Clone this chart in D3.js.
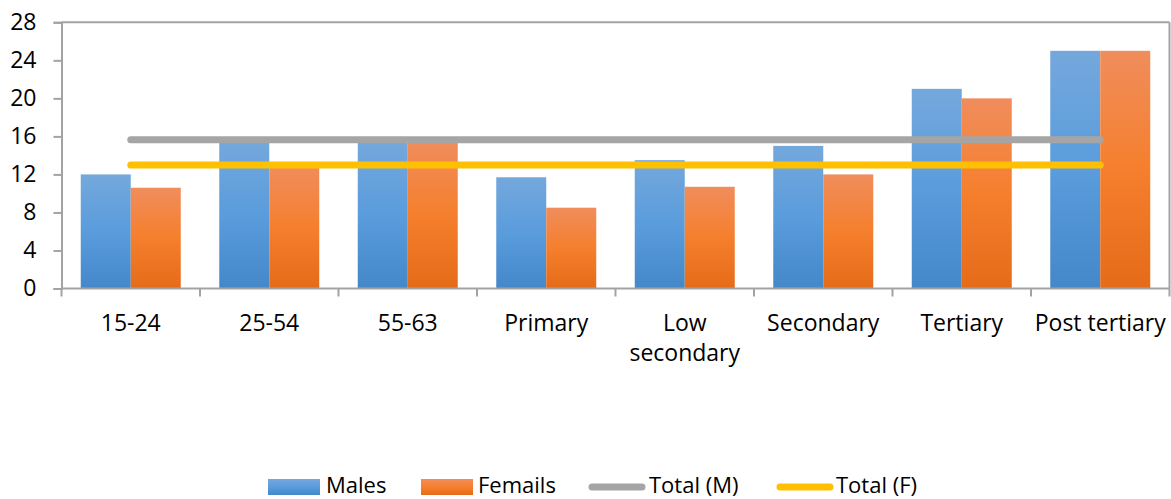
<!DOCTYPE html>
<html><head><meta charset="utf-8">
<script src="https://cdn.jsdelivr.net/npm/d3@7/dist/d3.min.js"></script>
<style>
html,body{margin:0;padding:0;background:#fff;}
svg text{font-family:"Open Sans",sans-serif;fill:#000;}
</style></head>
<body>
<svg id="chart" width="1171" height="499"></svg>
<script>
const categories = ["15-24","25-54","55-63","Primary","Low secondary","Secondary","Tertiary","Post tertiary"];
const categoryLines = [["15-24"],["25-54"],["55-63"],["Primary"],["Low","secondary"],["Secondary"],["Tertiary"],["Post tertiary"]];
const males   = [12.0, 15.5, 15.5, 11.7, 13.5, 15.0, 21.0, 25.0];
const femails = [10.6, 12.8, 15.5, 8.5, 10.7, 12.0, 20.0, 25.0];
const totalM  = [15.65, 15.65, 15.65, 15.65, 15.65, 15.65, 15.65, 15.65];
const totalF  = [13.0, 13.0, 13.0, 13.0, 13.0, 13.0, 13.0, 13.0];
const yTicks  = [0, 4, 8, 12, 16, 20, 24, 28];
const barSeries = ["Males","Femails"];

const svg = d3.select("#chart");
const L = 61.5, R = 1169.5, T = 22.3, B = 288.5;

const x = d3.scaleBand().domain(categories).range([L, R]).padding(0);
const xSub = d3.scaleBand().domain(barSeries).range([0, x.bandwidth()]).paddingInner(0).paddingOuter(0.385);
const y = d3.scaleLinear().domain([0, 28]).range([B, T]);

const defs = svg.append("defs");
function grad(id, stops){
  const g = defs.append("linearGradient").attr("id", id).attr("x1",0).attr("y1",0).attr("x2",0).attr("y2",1);
  stops.forEach(s => g.append("stop").attr("offset", s[0]).attr("stop-color", s[1]));
}
grad("gBlue", [[0,"#74a8dc"],[0.5,"#5a9cdc"],[1,"#4488ca"]]);
grad("gOrange", [[0,"#f08d5c"],[0.5,"#f57f2d"],[1,"#e56b18"]]);

const axisColor = "#a3a3a3";

// plot border (top and right)
svg.append("line").attr("x1", L).attr("x2", R).attr("y1", T).attr("y2", T).attr("stroke", axisColor).attr("stroke-width", 2);
svg.append("line").attr("x1", R).attr("x2", R).attr("y1", T).attr("y2", B).attr("stroke", axisColor).attr("stroke-width", 2);

// bars
const seriesData = {Males: males, Femails: femails};
const fills = {Males: "url(#gBlue)", Femails: "url(#gOrange)"};
barSeries.forEach(s => {
  svg.append("g").selectAll("rect").data(categories).join("rect")
    .attr("x", (c) => x(c) + xSub(s))
    .attr("width", xSub.bandwidth())
    .attr("y", (c, i) => y(seriesData[s][i]))
    .attr("height", (c, i) => B - y(seriesData[s][i]))
    .attr("fill", fills[s]);
});

// lines
const lineGen = d3.line().x((d, i) => x(categories[i]) + x.bandwidth() / 2).y(d => y(d));
svg.append("path").datum(totalM).attr("d", lineGen).attr("fill","none")
  .attr("stroke","#a5a5a5").attr("stroke-width",7).attr("stroke-linecap","round");
svg.append("path").datum(totalF).attr("d", lineGen).attr("fill","none")
  .attr("stroke","#ffc000").attr("stroke-width",7).attr("stroke-linecap","round");

// y axis
const yAxis = d3.axisLeft(y).tickValues(yTicks).tickSize(8).tickPadding(17).tickFormat(d3.format("d"));
const gy = svg.append("g").attr("transform", `translate(${L},0)`).call(yAxis);
gy.select(".domain").attr("stroke", axisColor).attr("stroke-width", 2);
gy.selectAll(".tick line").attr("stroke", axisColor).attr("stroke-width", 2);
gy.selectAll(".tick text").attr("font-size", 23).attr("font-family", "'Open Sans', sans-serif").attr("fill", "#000");

// x axis baseline and ticks
svg.append("line").attr("x1", L).attr("x2", R).attr("y1", B).attr("y2", B).attr("stroke", axisColor).attr("stroke-width", 2);
const tickPos = categories.map(c => x(c)).concat([R]);
svg.append("g").selectAll("line").data(tickPos).join("line")
  .attr("x1", d => d).attr("x2", d => d).attr("y1", B).attr("y2", B + 8)
  .attr("stroke", axisColor).attr("stroke-width", 2);

// x labels
const lab = svg.append("g").selectAll("text").data(categories).join("text")
  .attr("text-anchor","middle").attr("font-size", 23)
  .attr("x", c => x(c) + x.bandwidth() / 2).attr("y", 331);
lab.each(function(c, i){
  const t = d3.select(this);
  categoryLines[i].forEach((ln, j) => {
    t.append("tspan").attr("x", x(c) + x.bandwidth() / 2).attr("dy", j === 0 ? 0 : 30).text(ln);
  });
});

// legend
const legend = [
  {name:"Males", type:"rect", fill:"url(#gBlue)", x0:268, tx:326},
  {name:"Femails", type:"rect", fill:"url(#gOrange)", x0:421, tx:478},
  {name:"Total (M)", type:"line", stroke:"#a5a5a5", x0:589, tx:649},
  {name:"Total (F)", type:"line", stroke:"#ffc000", x0:777, tx:836}
];
const lg = svg.append("g");
legend.forEach(l => {
  if (l.type === "rect") {
    lg.append("rect").attr("x", l.x0).attr("y", 479).attr("width", 52).attr("height", 16).attr("fill", l.fill);
  } else {
    lg.append("line").attr("x1", l.x0 + 3).attr("x2", l.x0 + 53).attr("y1", 487).attr("y2", 487)
      .attr("stroke", l.stroke).attr("stroke-width", 7).attr("stroke-linecap","round");
  }
  lg.append("text").attr("x", l.tx).attr("y", 493).attr("font-size", 22).text(l.name);
});
</script>
</body></html>
